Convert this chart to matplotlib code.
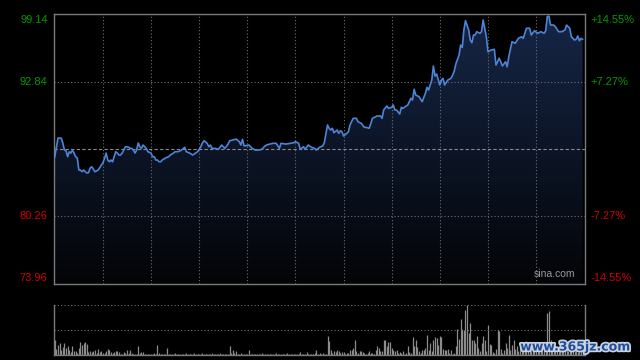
import numpy as np
import matplotlib
matplotlib.use('Agg')
import matplotlib.pyplot as plt
import matplotlib.patheffects as pe

# dati (minuti dall'apertura, prezzo)
minuti = [0, 2, 4, 5, 6, 7, 8, 9, 10, 11, 12, 13, 14, 15, 16, 17, 18, 19, 20, 21, 22, 23, 24, 25, 27, 29, 30, 31, 32, 33,
          34, 35, 36, 37, 38, 39, 40, 41, 42, 43, 44, 45, 46, 47, 48, 49, 50, 51, 52, 53, 54, 55, 57, 58, 60, 61, 62, 63, 64, 65,
          66, 67, 69, 71, 72, 74, 75, 77, 79, 81, 82, 84, 86, 89, 91, 92, 93, 95, 96, 97, 98, 100, 102, 104, 106, 108, 109, 111, 113, 115,
          116, 117, 118, 121, 123, 125, 127, 129, 131, 132, 134, 136, 138, 140, 141, 144, 147, 149, 150, 152, 153, 155, 156, 158, 160, 162, 163, 165, 167, 168,
          170, 171, 172, 173, 174, 176, 177, 178, 179, 180, 182, 183, 184, 186, 188, 189, 191, 193, 194, 196, 198, 201, 203, 204, 205, 207, 208, 210, 211, 212,
          213, 215, 216, 217, 219, 220, 222, 223, 224, 225, 227, 229, 231, 232, 233, 234, 235, 236, 237, 238, 240, 241, 242, 243, 245, 247, 248, 249, 250, 252,
          253, 254, 255, 256, 258, 259, 260, 261, 262, 263, 265, 266, 267, 269, 270, 272, 274, 275, 277, 278, 279, 281, 282, 283, 285, 287, 289, 291, 292, 294,
          296, 297, 299, 301, 303, 305, 306, 307, 308, 309, 311, 312, 314, 316, 318, 319, 321, 322, 324, 325, 326, 327, 328, 329]
prezzi = [85.83, 87.57, 87.57, 87.11, 86.45, 86.39, 85.83, 86.30, 86.17, 86.45, 86.17, 85.83, 85.71, 84.59, 84.59, 84.43, 84.59, 84.43, 84.31, 84.34,
          84.77, 84.90, 84.68, 84.43, 84.59, 85.05, 85.27, 85.68, 86.17, 85.52, 85.36, 85.52, 85.36, 85.83, 86.30, 86.17, 85.99, 85.99, 86.17, 86.45,
          86.76, 86.76, 86.71, 86.61, 86.61, 86.45, 86.17, 86.45, 87.11, 86.76, 86.61, 86.92, 86.61, 86.30, 86.17, 85.83, 85.83, 85.52, 85.52, 85.36,
          85.36, 85.52, 85.71, 85.83, 85.99, 86.17, 86.30, 86.30, 86.45, 86.71, 86.30, 86.17, 85.99, 86.30, 86.76, 87.11, 87.32, 87.08, 86.76, 86.92,
          86.61, 86.61, 86.52, 86.92, 86.61, 87.01, 87.32, 87.39, 87.48, 87.23, 86.92, 87.45, 86.83, 86.92, 86.61, 86.45, 86.45, 86.52, 86.83, 86.92,
          87.01, 87.08, 87.08, 86.61, 87.08, 87.01, 87.08, 87.14, 87.23, 87.08, 86.52, 86.76, 86.52, 86.92, 86.71, 86.61, 86.45, 86.71, 86.83, 87.13,
          88.79, 88.48, 88.32, 88.48, 88.07, 88.32, 88.01, 88.25, 88.16, 87.76, 88.01, 88.16, 88.79, 89.41, 89.41, 89.09, 88.94, 88.57, 88.57, 88.48,
          89.41, 89.63, 89.63, 89.41, 90.19, 90.56, 90.34, 90.44, 90.65, 90.19, 90.19, 89.81, 90.44, 90.34, 90.56, 90.65, 91.28, 91.12, 92.12, 91.58,
          91.43, 90.96, 91.74, 92.30, 92.05, 92.52, 92.98, 94.29, 93.36, 93.54, 92.52, 92.98, 93.14, 92.52, 92.98, 93.14, 93.45, 93.82, 94.48, 95.32,
          96.25, 96.02, 97.65, 98.52, 97.65, 96.71, 96.46, 97.18, 97.18, 97.49, 97.34, 97.49, 98.58, 97.02, 95.62, 95.78, 95.85, 94.38, 95.01, 94.69,
          94.29, 94.69, 94.22, 95.16, 96.56, 96.41, 96.87, 97.02, 96.87, 97.81, 97.81, 97.18, 97.58, 97.34, 97.49, 97.34, 97.58, 98.89, 98.95, 98.11,
          98.11, 97.96, 97.49, 97.49, 97.65, 98.11, 97.81, 97.02, 96.71, 96.78, 97.09, 96.65, 96.87, 96.78]

# volume per minuto (unita arbitrarie, 0..330)
volumi = [15, 6, 10, 12, 5, 8, 12, 7, 9, 5,
          3, 9, 4, 4, 2, 7, 13, 10, 12, 13,
          11, 3, 4, 3, 4, 5, 2, 6, 3, 4,
          2, 2, 4, 6, 5, 3, 2, 3, 4, 4,
          3, 1, 1, 3, 2, 5, 2, 5, 2, 1,
          1, 1, 9, 2, 3, 3, 1, 1, 1, 1,
          1, 1, 2, 1, 10, 2, 1, 1, 1, 1,
          7, 1, 1, 1, 1, 2, 1, 1, 1, 1,
          1, 1, 2, 1, 1, 1, 1, 2, 1, 1,
          1, 1, 2, 1, 1, 1, 1, 1, 2, 1,
          1, 1, 1, 2, 1, 1, 1, 1, 1, 9,
          2, 5, 2, 4, 1, 1, 2, 1, 1, 1,
          1, 5, 1, 1, 1, 1, 1, 1, 1, 2,
          1, 1, 1, 1, 1, 1, 1, 1, 2, 1,
          1, 1, 1, 1, 1, 2, 1, 1, 1, 1,
          1, 1, 1, 3, 1, 1, 1, 3, 1, 1,
          1, 1, 2, 5, 1, 2, 1, 2, 1, 1,
          19, 14, 5, 2, 4, 3, 5, 4, 2, 3,
          3, 1, 2, 2, 5, 5, 7, 15, 4, 2,
          4, 4, 3, 2, 1, 2, 4, 2, 2, 1,
          5, 9, 7, 4, 4, 15, 15, 9, 13, 13,
          7, 5, 4, 5, 2, 3, 2, 4, 1, 2,
          9, 3, 2, 18, 9, 15, 8, 4, 2, 5,
          5, 7, 20, 5, 12, 4, 15, 18, 17, 10,
          19, 18, 6, 5, 5, 6, 2, 5, 1, 2,
          9, 26, 16, 36, 26, 25, 45, 50, 22, 32,
          15, 15, 12, 19, 7, 4, 12, 19, 15, 4,
          30, 11, 10, 3, 2, 6, 25, 24, 6, 2,
          5, 12, 7, 20, 5, 10, 15, 6, 9, 4,
          12, 8, 5, 10, 14, 6, 8, 11, 4, 7,
          9, 5, 12, 6, 8, 10, 5, 42, 44, 15,
          8, 6, 10, 5, 7, 4, 9, 6, 5, 8,
          4, 6, 10, 5, 4, 7, 3, 5, 6, 4, 3]

chiusura_prec = 86.55
p_min, p_max = 73.96, 99.14
etichette_sx = ['99.14', '92.84', '80.26', '73.96']
etichette_dx = ['+14.55%', '+7.27%', '-7.27%', '-14.55%']
livelli = [99.14, 92.84, 80.26, 73.96]
colori_et = ['#009a00', '#009a00', '#d00000', '#d00000']

griglia = '#6e6e6e'
bordo = '#7a7a7a'

fig = plt.figure(figsize=(6.4, 3.6), dpi=100, facecolor='black')
ax = fig.add_axes([54/640, 1-284/360, 531/640, 270/360], facecolor='black')
axv = fig.add_axes([54/640, 1-355/360, 531/640, 50/360], facecolor='black')

x = np.array(minuti)
y = np.array(prezzi)

# riempimento con gradiente verticale
poly = ax.fill_between(x, y, p_min, facecolor='none', edgecolor='none')
grad = np.linspace(1, 0, 256).reshape(-1, 1)
alto = np.array([22, 38, 70]) / 255
basso = np.array([3, 4, 7]) / 255
img = basso + grad[..., None] * (alto - basso)
im = ax.imshow(img, extent=[0, 330, p_min, p_max], aspect='auto', origin='upper', zorder=1)
im.set_clip_path(poly.get_paths()[0], transform=ax.transData)

# griglia
for m in range(30, 330, 30):
    ax.axvline(m, color=griglia, lw=0.8, ls=(0, (1, 2)), zorder=2)
for p in [92.84, 80.26]:
    ax.axhline(p, color=griglia, lw=0.8, ls=(0, (1, 2)), zorder=2)
ax.axhline(chiusura_prec, color='#8a8a8a', lw=0.8, ls=(0, (3, 2)), zorder=2)

ax.plot(x, y, color='#4c84d8', lw=1.2, zorder=3)

ax.set_xlim(-0.5, 330.5)
ax.set_ylim(p_min, p_max)
ax.set_xticks([])
ax.set_yticks([])
for s in ax.spines.values():
    s.set_color(bordo)
    s.set_linewidth(1)

# etichette prezzo e percentuale
off = [-0.55, 0, 0, 0.6]
for liv, e1, e2, c, o in zip(livelli, etichette_sx, etichette_dx, colori_et, off):
    ax.text(-0.012, liv + o, e1, transform=ax.get_yaxis_transform(), ha='right', va='center',
            color=c, fontsize=8, family='Liberation Sans')
    ax.text(1.01, liv + o, e2, transform=ax.get_yaxis_transform(), ha='left', va='center',
            color=c, fontsize=8, family='Liberation Sans')

ax.text(0.982, 0.018, 'sina.com', transform=ax.transAxes, ha='right', va='bottom',
        color='#9a9a9a', fontsize=7.5, family='Liberation Sans')

# volume
axv.vlines(np.arange(len(volumi)), 0, volumi, color='#8c8c8c', lw=0.9)
axv.axhline(50, color=griglia, lw=0.8, ls=(0, (1, 2)))
axv.axhline(25, color=griglia, lw=0.8, ls=(0, (1, 2)))
axv.set_xlim(-0.5, 330.5)
axv.set_ylim(0, 50.5)
axv.set_xticks([])
axv.set_yticks([])
axv.spines['top'].set_visible(False)
for k in ['left', 'right', 'bottom']:
    axv.spines[k].set_color(bordo)
    axv.spines[k].set_linewidth(1)

# marchio sovrapposto
fig.text(575/640, 1-347/360, 'www.365jz.com', ha='center', va='center', color='#1f4d9a',
         fontsize=9, fontweight='bold', family='DejaVu Sans',
         path_effects=[pe.withStroke(linewidth=2.5, foreground='#c9d2e2')])

fig.savefig('out.png', dpi=100, facecolor='black')
